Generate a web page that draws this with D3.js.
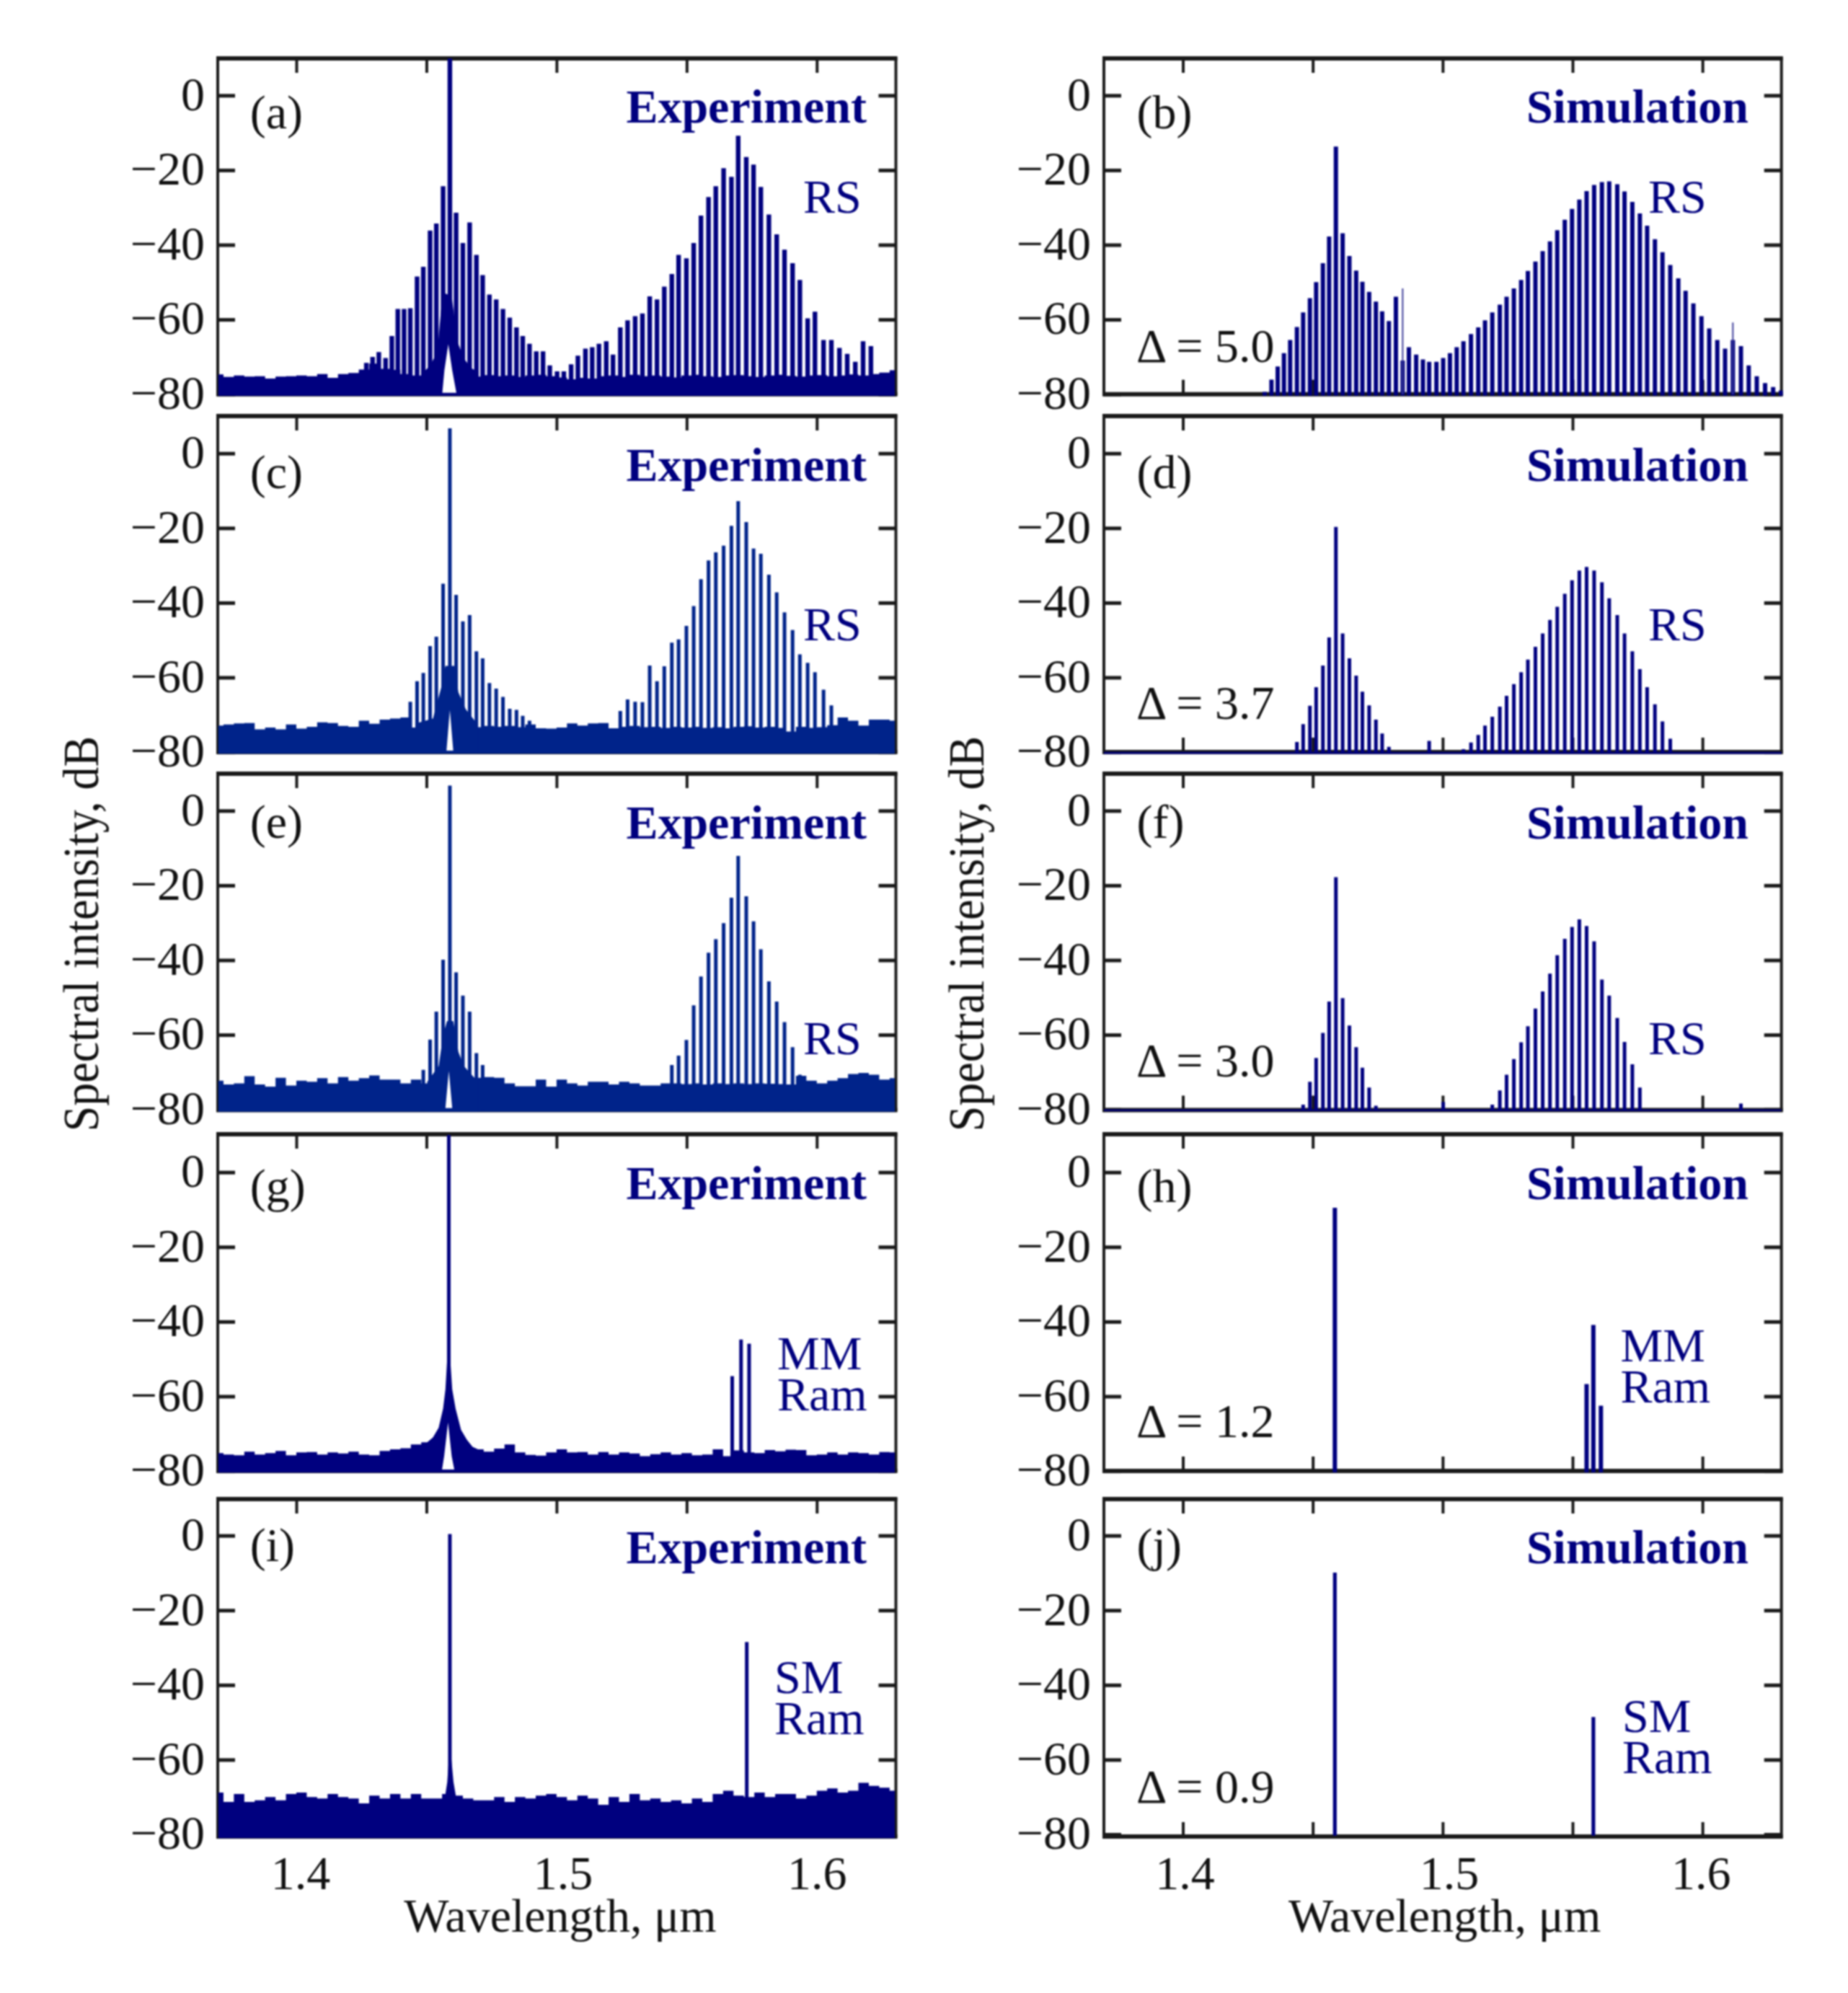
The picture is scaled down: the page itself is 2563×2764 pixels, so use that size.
<!DOCTYPE html>
<html><head><meta charset="utf-8">
<style>html,body{margin:0;padding:0;background:#fff}svg{display:block;filter:blur(0.8px)}text{font-family:"Liberation Serif","Times New Roman",serif}</style>
<script src="https://cdn.jsdelivr.net/npm/d3@7"></script></head><body><svg id="c" width="2563" height="2764"></svg>
<script>
// wavelength axis (µm) and level axis (dB)
const xTicks=[1.4,1.45,1.5,1.55,1.6];
const xLabelled=[1.4,1.5,1.6];
const yTicks=[0,-20,-40,-60,-80];

// comb line wavelengths, experiment
const expWl=[1.4269,1.4293,1.4317,1.4343,1.4367,1.4390,1.4414,1.4438,1.4464,1.4488,1.4514,1.4538,1.4564,1.4590,1.4614,1.4640,1.4666,1.4692,1.4716,1.4742,1.4768,1.4794,1.4820,1.4846,1.4870,1.4896,1.4922,1.4948,1.4974,1.5002,1.5028,1.5056,1.5082,1.5111,1.5137,1.5163,1.5191,1.5217,1.5245,1.5273,1.5302,1.5330,1.5358,1.5386,1.5414,1.5443,1.5469,1.5499,1.5527,1.5555,1.5584,1.5612,1.5642,1.5672,1.5698,1.5729,1.5757,1.5785,1.5816,1.5846,1.5876,1.5907,1.5935,1.5965,1.5993,1.6026,1.6056,1.6087,1.6117,1.6148,1.6178,1.6208];
// comb line wavelengths, simulation
const simWl=[1.4315,1.4341,1.4365,1.4389,1.4413,1.4439,1.4463,1.4489,1.4513,1.4539,1.4563,1.4589,1.4615,1.4641,1.4667,1.4691,1.4717,1.4743,1.4767,1.4793,1.4820,1.4846,1.4870,1.4898,1.4924,1.4948,1.4976,1.5002,1.5028,1.5054,1.5080,1.5109,1.5137,1.5163,1.5191,1.5220,1.5246,1.5274,1.5302,1.5328,1.5357,1.5385,1.5413,1.5441,1.5470,1.5498,1.5526,1.5554,1.5583,1.5613,1.5641,1.5672,1.5700,1.5730,1.5759,1.5787,1.5817,1.5846,1.5876,1.5907,1.5935,1.5965,1.5996,1.6026,1.6057,1.6087,1.6117,1.6148,1.6178,1.6209,1.6241,1.6272,1.6302];

// comb line levels (dB), index-aligned with the wavelength arrays; _ = line absent
const _=null;
const combA=[-71.6,-70,-68.7,-70.3,-64.4,-57.2,-57.2,-57,-48.5,-45.9,-36.2,-34.3,-24.3,10,-31.4,-39.5,-34,-42.7,-48.1,-53.3,-54.6,-57.2,-59.5,-62.1,-64.4,-66.5,-68.5,-68.5,-72.3,-73.9,-73.9,-72,-69.7,-67.8,-67.4,-66.5,-65.8,-69.4,-62.1,-60.2,-59.1,-58.4,-53.8,-54.6,-51.2,-47.8,-42.7,-43.6,-39.5,-32.2,-27.2,-24.3,-19.5,-21.8,-10.8,-16.5,-18.5,-24.5,-31.9,-37.2,-41.3,-44.9,-49.4,-59.7,-57.9,-65.5,-65.5,-67.6,-69.2,-71.3,-65.8,-67.1];
const combC=[_,_,_,_,_,_,_,-66.5,-61,-58.8,-51.6,-49.1,-34.9,6.7,-37.9,-45,-43.3,-53,-54.9,-61.5,-63,-65.2,-68.4,-68.7,-70.3,-71.6,_,_,_,_,_,_,_,_,_,_,_,_,-69,-65.9,-66.5,-66.6,-56.8,-61,-57,-50.7,-49.8,-46.2,-40.9,-33.7,-28.7,-26.5,-24.7,-19.4,-12.8,-18.4,-25.5,-26.9,-32.5,-37.2,-42.6,-47.3,-53.8,-56.1,-58.6,-63.3,-67.5,_,_,_,_,_];
const combE=[_,_,_,_,_,_,_,_,_,-69.4,-61.3,-53.8,-39.9,6.7,-43.3,-49.5,-53.8,-64.9,-68.1,_,_,_,_,_,_,_,_,_,_,_,_,_,_,_,_,_,_,_,_,_,_,_,_,_,_,-68.1,-65.6,-61.4,-52.1,-44.4,-38,-34.4,-30.1,-23.3,-12.1,-22.9,-29.6,-37.1,-45.7,-51.1,-56.6,-63.3,-70.7,_,_,_,_,_,_,_,_,_];
const combB=[-79.4,-76.1,-72.6,-69,-65.5,-62,-58.1,-54.3,-50,-44.9,-37.8,-13.7,-36.9,-43,-46.9,-49.9,-52.6,-55.2,-57.8,-60.4,-53.9,-71,-67.4,-69.4,-70.7,-71.3,-71.3,-70.3,-69,-67.4,-65.8,-63.9,-62.1,-60.2,-58.1,-56,-53.9,-51.7,-49.4,-47,-44.5,-41.7,-39.1,-36.1,-33.3,-30.4,-27.9,-25.6,-24,-23.2,-23,-23.8,-25.7,-28.5,-31.6,-34.9,-38.5,-42,-45.4,-49,-52.3,-55.7,-59.1,-62.4,-65.5,-67.8,-65.5,-67.1,-72.3,-75.2,-77,-78.1,-79];
const combD=[_,_,_,_,_,-77.3,-72.5,-67.6,-62.6,-56.8,-49.3,-19.7,-48.2,-54.9,-59.5,-63.8,-67.5,-71.3,-75,-78.6,_,_,_,_,_,-77,_,_,_,_,-79.2,-77.4,-75.4,-72.9,-70.5,-67.8,-64.9,-61.8,-58.6,-55.2,-51.8,-48.2,-44.6,-41.1,-37.6,-34,-31.4,-30.4,-31.4,-34.5,-38.8,-43.3,-48.2,-53,-57.8,-62.6,-67.2,-71.8,-76.4,_,_,_,_,_,_,_,_,_,_,_,_,_,_];
const combF=[_,_,_,_,_,_,-78.7,-72.6,-66.2,-59.5,-51.1,-17.8,-50.2,-57.5,-63.3,-68.8,-74.1,-79,_,_,_,_,_,_,_,_,_,-78,_,_,_,_,_,_,-78.7,-74.9,-70.7,-66.5,-62,-57.7,-53,-48.4,-43.6,-38.7,-34.3,-31.1,-29.1,-30.9,-35,-45.2,-49.5,-55.5,-61.9,-67.9,-74.1,_,_,_,_,_,_,_,_,_,_,_,_,-78.4,_,_,_,_,_];
// thin spikes in panel (b)
const spikeBWl=[1.4846,1.6117];
const spikeBDb=[-51.7,-60.8];
// isolated lines, panels g-j
const lineGWl=[1.4586,1.5675,1.5709,1.5740];
const lineGDb=[10,-54.6,-44.8,-45.9];
const lineHWl=[1.4585,1.5554,1.5580,1.5609];
const lineHDb=[-9.5,-56.7,-40.9,-62.5];
const lineIWl=[1.4590,1.5731];
const lineIDb=[0.4,-28.5];
const lineJWl=[1.4585,1.5580];
const lineJDb=[-9.9,-48.6];

// noise floor wavelength grid
const noiseWl=[1.370,1.374,1.378,1.382,1.386,1.390,1.394,1.398,1.402,1.406,1.410,1.414,1.418,1.422,1.426,1.430,1.434,1.438,1.442,1.446,1.450,1.454,1.458,1.462,1.466,1.470,1.474,1.478,1.482,1.486,1.490,1.494,1.498,1.502,1.506,1.510,1.514,1.518,1.522,1.526,1.530,1.534,1.538,1.542,1.546,1.550,1.554,1.558,1.562,1.566,1.570,1.574,1.578,1.582,1.586,1.590,1.594,1.598,1.602,1.606,1.610,1.614,1.618,1.622,1.626,1.630];
const noiseA=[-74.7,-75.4,-75,-75.3,-75.2,-75.8,-75.3,-75.2,-75,-75.2,-74.6,-75.6,-74.6,-74.3,-73.4,-71.8,-73.2,-73.5,-74.6,-75,-75,-75.2,-74.8,-75.1,-75,-75.3,-74.9,-75.2,-75,-75.4,-75,-74.8,-75.2,-75.5,-76,-75.6,-75.8,-75.2,-75,-75.4,-74.8,-75.2,-75,-75.3,-75.5,-75,-74.8,-75.2,-75.4,-75,-74.9,-75.2,-75.4,-75,-74.8,-75.1,-75.3,-75,-74.9,-75.2,-75,-74.7,-75,-74.6,-74.2,-73.6];
const noiseC=[-72.9,-72.6,-72.3,-72.2,-73.9,-73.4,-73.9,-72.6,-73.7,-73.2,-72,-72.2,-73,-73.2,-71.6,-72.4,-71.3,-71,-70.7,-73.4,-73,-72.8,-73,-73.1,-73,-73.3,-73,-73.2,-73,-73.3,-72.6,-73.6,-73.7,-73.4,-72.3,-72.9,-72.3,-72.2,-73.6,-73.2,-73,-73.3,-73.2,-73.5,-73.2,-73.4,-73.2,-73.5,-73.3,-73.6,-73.2,-73.1,-73.4,-73.2,-73.5,-74.5,-73.2,-73.5,-73.3,-72.8,-70.7,-71.6,-72.9,-71.3,-71.3,-71.6];
const noiseE=[-72.3,-73.3,-73,-71.1,-73.3,-73.9,-71.5,-73.6,-72.3,-72.6,-71.6,-73,-71.3,-72.3,-71.6,-70.9,-72,-72,-73,-72,-73,-72.8,-73,-72.9,-73,-71.5,-71.3,-71.5,-73,-73.8,-73.8,-72,-73.9,-72,-73,-73.6,-72.6,-72.6,-73.3,-72.6,-73,-73.6,-73.6,-73,-73,-73.2,-73,-73.3,-73,-73.2,-73,-73.2,-73,-73.1,-73.2,-73.3,-71,-72.3,-73,-72.3,-71.6,-70.5,-70.2,-70.7,-72,-71.6];
const noiseG=[-75.2,-75.6,-75.8,-74.8,-75.6,-75.2,-74.6,-75.8,-75,-74.9,-75.6,-75,-75.3,-74.8,-75.6,-75.8,-74.6,-74.2,-73.9,-72.9,-72.3,-74,-75,-74,-74.4,-74.2,-74.8,-74,-72.9,-75,-75.7,-75.9,-75,-74.2,-75,-74.9,-75.6,-74.9,-75.6,-75,-75.3,-76,-75.5,-75,-75.6,-75.2,-75.8,-75.6,-74.2,-76,-74.5,-75,-75.2,-74.4,-74.7,-74.3,-74.4,-75.8,-75.6,-75,-75.6,-75,-75.2,-75.6,-74.9,-75];
const noiseI=[-68.8,-71.3,-69.2,-71.3,-70.9,-70,-70.9,-69.2,-68.8,-70,-70.4,-69.2,-70,-70.4,-71.7,-69.6,-70.4,-69.2,-70.4,-69.2,-70.4,-70.4,-69.2,-69.6,-70.4,-70.9,-70.9,-70,-71.3,-70,-70.4,-69.6,-69.2,-70,-70.9,-69.6,-70.4,-72.1,-70,-71.3,-69.2,-70.9,-70.4,-71.3,-70.9,-71.7,-70.4,-71.3,-69.2,-68.3,-69.6,-70,-68.8,-70,-69.2,-69.2,-70.4,-69.6,-68.3,-67.7,-68.8,-68.3,-66.2,-67,-67.5,-68.3];

// pedestal around the pump line
const pedAWl=[1.4487,1.4515,1.4542,1.4556,1.4570,1.4597,1.4619,1.4644,1.4671,1.4699];
const pedADb=[-74.2,-72.3,-68.5,-57.5,-53,-53.7,-65.9,-70.4,-73,-74];
const pedCWl=[1.4460,1.4525,1.4557,1.4573,1.4607,1.4623,1.4651,1.4698];
const pedCDb=[-72.3,-71,-62.6,-56.9,-56.9,-64,-68.5,-72.7];
const pedEWl=[1.4503,1.4547,1.4564,1.4579,1.4603,1.4623,1.4644,1.4698];
const pedEDb=[-72.6,-68.4,-60.1,-56.3,-56.3,-64.6,-68.4,-72.6];
const pedGWl=[1.4503,1.4525,1.4547,1.4564,1.4573,1.4581,1.4590,1.4599,1.4612,1.4633,1.4655,1.4677,1.4698];
const pedGDb=[-72.3,-71,-68.4,-63.3,-58.1,-48.5,-48.5,-58.1,-63.3,-69,-71.6,-73.5,-74.2];
const pedIWl=[1.4570,1.4580,1.4586,1.4596,1.4604,1.4615];
const pedIDb=[-70.5,-66,-60,-60,-66,-70.5];

// white notch under the pump line
const notchAWl=[1.4561,1.4569,1.4584,1.4599,1.4615];
const notchADb=[-79.6,-73.6,-66.6,-73.6,-79.6];
const notchCWl=[1.4577,1.4590,1.4603];
const notchCDb=[-79.6,-68.7,-79.6];
const notchEWl=[1.4573,1.4586,1.4599];
const notchEDb=[-79.6,-69.7,-79.6];
const notchGWl=[1.4560,1.4568,1.4583,1.4597,1.4607];
const notchGDb=[-79.6,-76,-67,-76,-79.6];

const navy='#00007f', blue='#00238a', ink='#1a1a1a';
const panels=[
 {id:'a',col:0,row:0,wl:expWl,db:combA,w:6.4,color:navy,noise:noiseA,ped:[pedAWl,pedADb],notch:[notchAWl,notchADb],name:'Experiment'},
 {id:'b',col:1,row:0,wl:simWl,db:combB,w:6,color:navy,spike:[spikeBWl,spikeBDb],name:'Simulation',delta:'5.0'},
 {id:'c',col:0,row:1,wl:expWl,db:combC,w:5,color:blue,noise:noiseC,ped:[pedCWl,pedCDb],notch:[notchCWl,notchCDb],name:'Experiment'},
 {id:'d',col:1,row:1,wl:simWl,db:combD,w:5,color:navy,floor:true,name:'Simulation',delta:'3.7'},
 {id:'e',col:0,row:2,wl:expWl,db:combE,w:5,color:blue,noise:noiseE,ped:[pedEWl,pedEDb],notch:[notchEWl,notchEDb],name:'Experiment'},
 {id:'f',col:1,row:2,wl:simWl,db:combF,w:5,color:navy,floor:true,name:'Simulation',delta:'3.0'},
 {id:'g',col:0,row:3,wl:lineGWl,db:lineGDb,w:5,color:navy,noise:noiseG,ped:[pedGWl,pedGDb],notch:[notchGWl,notchGDb],name:'Experiment'},
 {id:'h',col:1,row:3,wl:lineHWl,db:lineHDb,w:6,color:navy,name:'Simulation',delta:'1.2'},
 {id:'i',col:0,row:4,wl:lineIWl,db:lineIDb,w:5,color:navy,noise:noiseI,ped:[pedIWl,pedIDb],name:'Experiment'},
 {id:'j',col:1,row:4,wl:lineJWl,db:lineJDb,w:5.2,color:navy,name:'Simulation',delta:'0.9'}
];

// layout
const colX=[[302,1242.5],[1531,2470.7]];
const rowTop=[81,577,1073,1573,2079];
const rowZero=[132.3,628.7,1124.3,1625.7,2129.6];
const rowBottom=[546.7,1043,1539.5,2040,2547];
const perDb=5.18;
const letterY=[178,677,1162,1667,2165];
const nameY=[170,667,1163,1663,2168];
const deltaY=[502,997,1493,1993,2500];
const FS=66;
const svg=d3.select('#c');
svg.append('rect').attr('width',2563).attr('height',2764).attr('fill','#fff');

const minus=d=>String(d).replace('-','\u2212');

panels.forEach(p=>{
  const [xl,xr]=colX[p.col];
  const top=rowTop[p.row],bot=rowBottom[p.row],zero=rowZero[p.row];
  const x=d3.scaleLinear().domain([p.col===0?1.3698:1.3696,1.6304]).range([xl,xr]);
  const y=d3.scaleLinear().domain([0,-(bot-zero)/perDb]).range([zero,bot]);
  const yTop=(zero-top)/perDb;
  const yBase=y(-80);
  const g=svg.append('g').attr('class','panel-'+p.id);

  // frame and ticks
  g.append('rect').attr('x',xl).attr('y',top).attr('width',xr-xl).attr('height',bot-top)
    .attr('fill','none').attr('stroke',ink).attr('stroke-width',4);
  [top,bot].forEach(v=>g.append('line').attr('x1',xl-2).attr('x2',xr+2).attr('y1',v).attr('y2',v)
    .attr('stroke',ink).attr('stroke-width',6));
  const style=(s,w)=>{s.select('.domain').remove();s.selectAll('line').attr('stroke',ink).attr('stroke-width',w);
    s.selectAll('text').attr('fill','#111').attr('font-size',FS).attr('font-family','"Liberation Serif",serif');};
  g.append('g').attr('transform',`translate(${xl},0)`)
    .call(d3.axisLeft(y).tickValues(yTicks).tickSizeInner(-24).tickSizeOuter(0).tickPadding(18).tickFormat(minus)).call(style,5)
    .selectAll('text').attr('dy','0.30em');
  g.append('g').attr('transform',`translate(${xr},0)`)
    .call(d3.axisRight(y).tickValues(yTicks).tickSizeInner(-24).tickSizeOuter(0).tickFormat('')).call(style,5);
  g.append('g').attr('transform',`translate(0,${top})`)
    .call(d3.axisTop(x).tickValues(xTicks).tickSizeInner(-20).tickSizeOuter(0).tickFormat('')).call(style,4);
  const bottom=g.append('g').attr('transform',`translate(0,${bot})`)
    .call(d3.axisBottom(x).tickValues(xTicks).tickSizeInner(-20).tickSizeOuter(0).tickPadding(26)
      .tickFormat(d=>(p.row===4&&xLabelled.includes(d))?d3.format('.1f')(d):'')).call(style,4);
  const labelShift=p.col===0?{1.4:5.5,1.5:8.6,1.6:0}:{1.4:2.4,1.5:8.6,1.6:-2.4};
  bottom.selectAll('.tick').each(function(d){d3.select(this).select('text').attr('dx',labelShift[d]||0);});

  const clip='clip-'+p.id;
  g.append('clipPath').attr('id',clip).append('rect').attr('x',xl-2).attr('y',top).attr('width',xr-xl+4).attr('height',bot-top+4);
  const marks=g.append('g').attr('clip-path',`url(#${clip})`);

  // noise floor
  if(p.noise){
    marks.append('path').datum(p.noise.map((v,i)=>[noiseWl[i],v]))
      .attr('fill',p.color)
      .attr('d',d3.area().curve(d3.curveStep).x(d=>x(d[0])).y0(bot+2.2).y1(d=>y(d[1])));
  }
  // comb / isolated lines
  const lines=p.wl.map((w,i)=>[w,p.db[i]]).filter(d=>d[1]!==null);
  marks.append('g').selectAll('line').data(lines).join('line')
    .attr('x1',d=>x(d[0])).attr('x2',d=>x(d[0]))
    .attr('y1',yBase+2).attr('y2',d=>y(Math.min(d[1],yTop)))
    .attr('stroke',p.color).attr('stroke-width',p.w);
  if(p.spike){
    marks.append('g').selectAll('line').data(p.spike[0].map((w,i)=>[w,p.spike[1][i]])).join('line')
      .attr('x1',d=>x(d[0])).attr('x2',d=>x(d[0]))
      .attr('y1',yBase).attr('y2',d=>y(d[1]))
      .attr('stroke','#3d3d99').attr('stroke-width',2);
  }
  if(p.floor){
    marks.append('line').attr('x1',xl).attr('x2',xr).attr('y1',yBase+1).attr('y2',yBase+1)
      .attr('stroke',p.color).attr('stroke-width',2.6);
  }
  // pedestal
  if(p.ped){
    marks.append('path').datum(p.ped[0].map((w,i)=>[w,p.ped[1][i]]))
      .attr('fill',p.color)
      .attr('d',d3.area().x(d=>x(d[0])).y0(bot+2).y1(d=>y(d[1])));
  }
  // notch
  if(p.notch){
    marks.append('path').datum(p.notch[0].map((w,i)=>[w,p.notch[1][i]]))
      .attr('fill','#fff')
      .attr('d',d3.area().x(d=>x(d[0])).y0(y(-79.6)).y1(d=>y(d[1])));
  }
  // texts
  const tx=(s,xp,yp,opt={})=>g.append('text').attr('x',xp).attr('y',yp).attr('font-size',FS)
    .attr('fill',opt.fill||'#111').attr('font-weight',opt.bold?'bold':'normal')
    .attr('text-anchor',opt.anchor||'start').text(s);
  tx(`(${p.id})`,p.col===0?346.8:1576.6,letterY[p.row]);
  tx(p.name,p.col===0?1202:2425,nameY[p.row],{bold:true,fill:navy,anchor:'end'});
  if(p.delta) tx(`\u0394 = ${p.delta}`,1576,deltaY[p.row]);
});

// side labels
const ann=(s,xp,yp)=>svg.append('text').attr('x',xp).attr('y',yp).attr('font-size',FS).attr('fill',navy).text(s);
[295,888,1462].forEach(yp=>{ann('RS',1114,yp);ann('RS',2286,yp);});
ann('MM',1078,1899);ann('Ram',1078,1956);
ann('MM',2247.5,1888);ann('Ram',2247.5,1945);
ann('SM',1074,2348);ann('Ram',1074,2405);
ann('SM',2250,2402);ann('Ram',2250,2459);

// axis titles
[[136,1295],[1364,1295]].forEach(([xp,yp])=>{
  svg.append('text').attr('transform',`translate(${xp},${yp}) rotate(-90) scale(1,1.08)`).attr('text-anchor','middle')
    .attr('font-size',64).attr('fill','#111').text('Spectral intensity, dB');
});
[777,2003.6].forEach(xp=>{
  svg.append('text').attr('x',xp).attr('y',2679).attr('text-anchor','middle').attr('font-size',FS).attr('fill','#111').text('Wavelength, \u03bcm');
});
</script></body></html>
